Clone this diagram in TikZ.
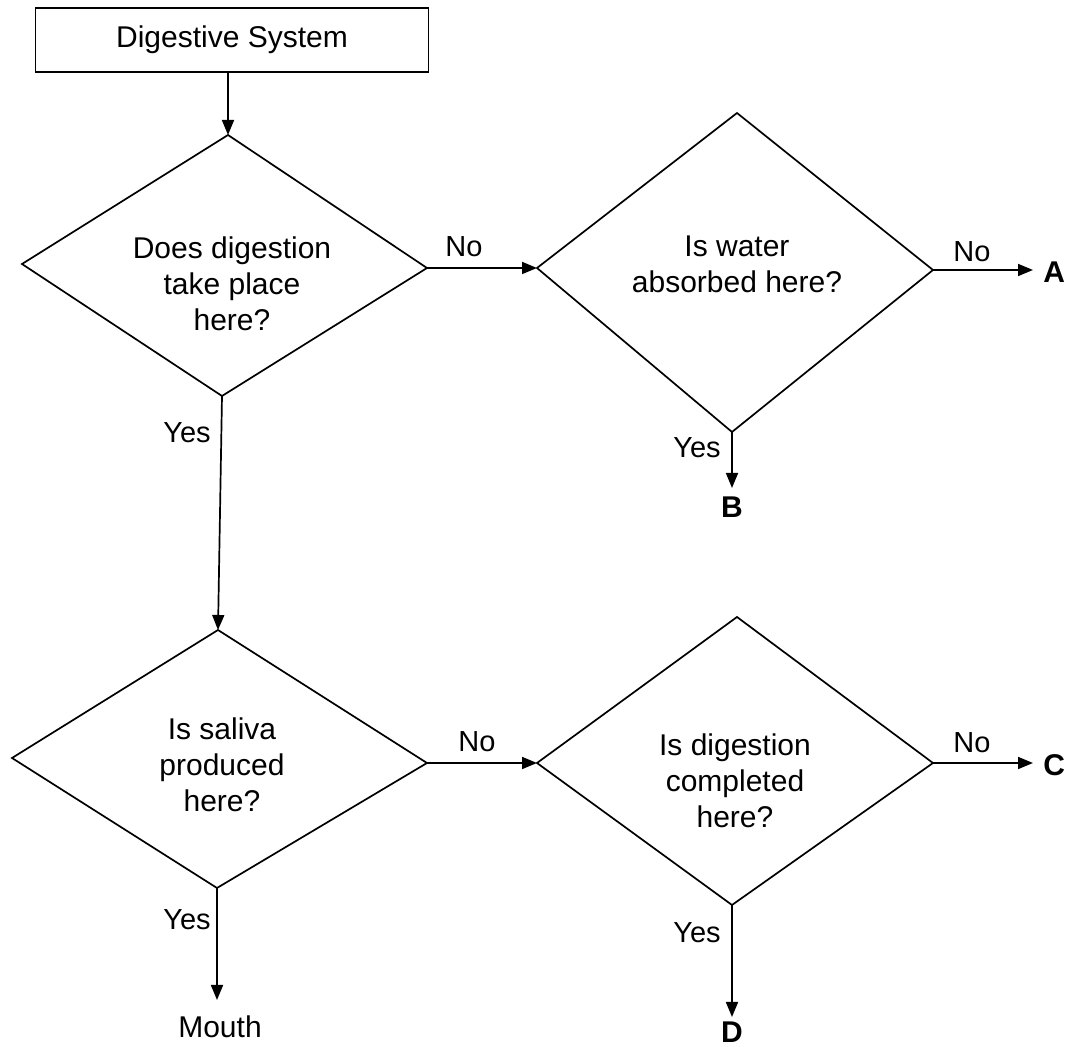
\documentclass[tikz,border=0pt]{standalone}
\usepackage{fontspec}
\setmainfont{Liberation Sans}
\usetikzlibrary{arrows.meta}
\begin{document}
\begin{tikzpicture}[x=0.5pt,y=-0.5pt,
  line/.style={line width=0.85pt},
  flow/.style={line width=0.85pt,-{Triangle[length=7.5pt,width=6pt]}},
  txt/.style={font=\fontsize{15pt}{18pt}\selectfont,align=center,inner sep=0pt},
  lbl/.style={font=\fontsize{14.5pt}{17pt}\selectfont,inner sep=0pt},
  term/.style={font=\fontsize{15pt}{18pt}\selectfont\bfseries,inner sep=0pt}]
\useasboundingbox (0,0) rectangle (1073,1047);
% start box
\node[draw,line,minimum width=196.5pt,minimum height=32pt,inner sep=0pt,txt] (start) at (232,40) {Digestive System};
% diamond 1
\coordinate (d1t) at (228,135); \coordinate (d1r) at (427,268);
\coordinate (d1b) at (222,396); \coordinate (d1l) at (22,264);
\draw[line] (d1t) -- (d1r) -- (d1b) -- (d1l) -- cycle;
\node[txt] (q1) at (232,284) {Does digestion\\take place\\here?};
% diamond 2
\coordinate (d2t) at (737,113); \coordinate (d2r) at (933,270);
\coordinate (d2b) at (732,432); \coordinate (d2l) at (537,268);
\draw[line] (d2t) -- (d2r) -- (d2b) -- (d2l) -- cycle;
\node[txt] (q2) at (737,264) {Is water\\absorbed here?};
% diamond 3
\coordinate (d3t) at (218,630); \coordinate (d3r) at (427,763);
\coordinate (d3b) at (217,888); \coordinate (d3l) at (12,758);
\draw[line] (d3t) -- (d3r) -- (d3b) -- (d3l) -- cycle;
\node[txt] (q3) at (222,765) {Is saliva\\produced\\here?};
% diamond 4
\coordinate (d4t) at (737,617); \coordinate (d4r) at (933,763);
\coordinate (d4b) at (732,905); \coordinate (d4l) at (537,763);
\draw[line] (d4t) -- (d4r) -- (d4b) -- (d4l) -- cycle;
\node[txt] (q4) at (735,781) {Is digestion\\completed\\here?};
% terminals
\coordinate (ea) at (1033,270);
\coordinate (eb) at (732,488);
\coordinate (ec) at (1033,763);
\coordinate (ed) at (732,1017);
\coordinate (em) at (217,1000);
\node[term,anchor=west] (A) at (1043,272) {A};
\node[term] (B) at (732,507) {B};
\node[term,anchor=west] (C) at (1043,765) {C};
\node[term] (D) at (732,1032) {D};
\node[txt] (mouth) at (220,1027) {Mouth};
% connectors
\draw[flow] (start.south -| d1t) -- (d1t);
\draw[flow] (d1r) -- (d2l);
\node[lbl] (n1) at (464,247) {No};
\draw[flow] (d2r) -- (ea);
\node[lbl] (n2) at (972,252) {No};
\draw[flow] (d2b) -- (eb);
\node[lbl] (y2) at (697,448) {Yes};
\draw[flow] (d1b) -- (d3t);
\node[lbl] (y1) at (187,433) {Yes};
\draw[flow] (d3r) -- (d4l);
\node[lbl] (n3) at (477,742) {No};
\draw[flow] (d4r) -- (ec);
\node[lbl] (n4) at (972,743) {No};
\draw[flow] (d4b) -- (ed);
\node[lbl] (y4) at (697,933) {Yes};
\draw[flow] (d3b) -- (em);
\node[lbl] (y3) at (187,920) {Yes};
\end{tikzpicture}
\end{document}
